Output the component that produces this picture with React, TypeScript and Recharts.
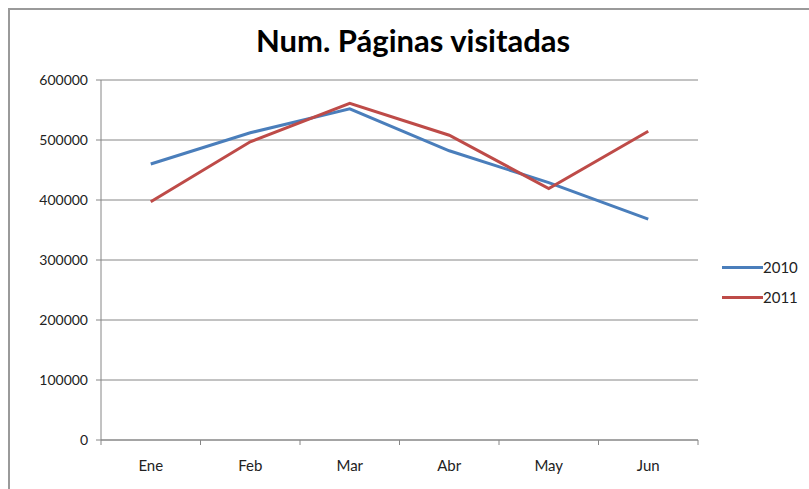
import { CartesianGrid, Line, LineChart, XAxis, YAxis } from "recharts"

// months and visits
const months = ["Ene", "Feb", "Mar", "Abr", "May", "Jun"]
const visits2010 = [460000, 512000, 552000, 482000, 429000, 368000]
const visits2011 = [397000, 497000, 561000, 508000, 419000, 514500]
const yTicks = [0, 100000, 200000, 300000, 400000, 500000, 600000]
const series = [
  { key: "y2010", name: "2010", color: "#4a7ebb" },
  { key: "y2011", name: "2011", color: "#be4b48" },
]

const data = months.map((m, i) => ({ month: m, y2010: visits2010[i], y2011: visits2011[i] }))

const axisGray = "#868686"
const font = "Lato, 'Open Sans', sans-serif"

// category label plus tick marks at the band edges (spreadsheet style)
const MonthTick = (props: any) => {
  const { x, y, payload, index, visibleTicksCount } = props
  const half = payload?.offset ?? 0
  const isLast = index === (visibleTicksCount ?? months.length) - 1
  return (
    <g>
      <line x1={x - half} x2={x - half} y1={y} y2={y + 5} stroke={axisGray} />
      {isLast && <line x1={x + half} x2={x + half} y1={y} y2={y + 5} stroke={axisGray} />}
      <text x={x} y={y + 20} dy="0.71em" textAnchor="middle" fill="#222" fontSize={15} fontFamily={font}>
        {payload.value}
      </text>
    </g>
  )
}

export default function App() {
  return (
    <div style={{ position: "absolute", left: 0, top: 0, width: 809, height: 489, background: "#fff", fontFamily: font }}>
      {/* outer chart frame, only top and left edges are visible */}
      <div
        style={{
          position: "absolute",
          left: 8,
          top: 8,
          width: 820,
          height: 500,
          borderTop: "2px solid #9a9a9a",
          borderLeft: "2px solid #9a9a9a",
        }}
      />
      <div
        style={{
          position: "absolute",
          left: 0,
          top: 21,
          width: 826,
          textAlign: "center",
          fontSize: 31,
          fontWeight: 700,
          color: "#000",
        }}
      >
        Num. Páginas visitadas
      </div>
      <div style={{ position: "absolute", left: 0, top: 0 }}>
        <LineChart width={809} height={489} data={data} margin={{ top: 80, right: 111, bottom: 0, left: 0 }}>
          <CartesianGrid horizontal vertical={false} stroke={axisGray} strokeWidth={1} />
          <XAxis
            dataKey="month"
            scale="band"
            stroke={axisGray}
            tickLine={false}
            tickSize={0}
            tickMargin={0}
            height={49}
            interval={0}
            tick={<MonthTick />}
          />
          <YAxis
            domain={[0, 600000]}
            ticks={yTicks}
            width={101}
            stroke={axisGray}
            tickSize={5}
            tickMargin={8}
            tick={{ fill: "#222", fontSize: 14, fontFamily: font }}
          />
          {series.map((s) => (
            <Line
              key={s.key}
              type="linear"
              dataKey={s.key}
              name={s.name}
              stroke={s.color}
              strokeWidth={3}
              dot={false}
              isAnimationActive={false}
            />
          ))}
        </LineChart>
      </div>
      {/* legend to the right of the plot */}
      <div style={{ position: "absolute", left: 722, top: 252 }}>
        {series.map((s) => (
          <div key={s.key} style={{ display: "flex", alignItems: "center", height: 30, fontSize: 15, color: "#222" }}>
            <div style={{ width: 41, height: 3, background: s.color }} />
            <span>{s.name}</span>
          </div>
        ))}
      </div>
    </div>
  )
}
